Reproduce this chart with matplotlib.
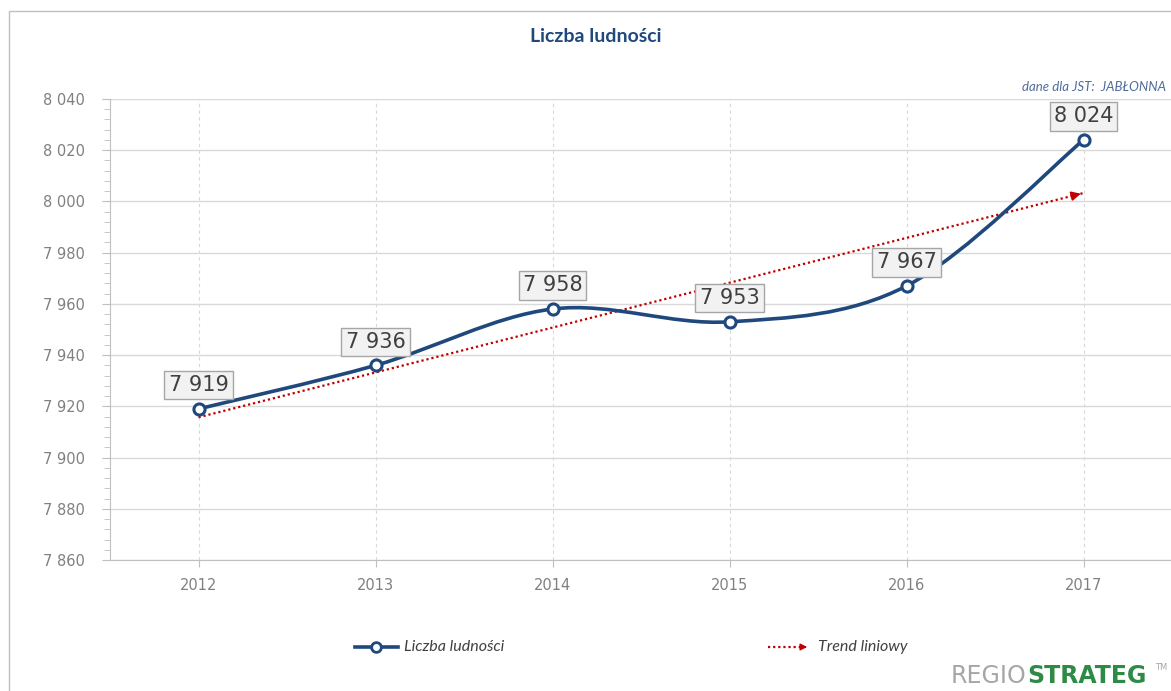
import matplotlib.pyplot as plt
import matplotlib.ticker as mticker
from matplotlib.path import Path
from matplotlib.patches import PathPatch, Rectangle, FancyArrowPatch
from matplotlib.lines import Line2D
import numpy as np

years = ['2012', '2013', '2014', '2015', '2016', '2017']
population = [7919, 7936, 7958, 7953, 7967, 8024]
y_ticks = [7860, 7880, 7900, 7920, 7940, 7960, 7980, 8000, 8020, 8040]

blue = '#1F497D'
red = '#C00000'
gray = '#808080'

plt.rcParams['font.family'] = ['Lato', 'DejaVu Sans']

fig = plt.figure(figsize=(11.71, 6.91), dpi=100)
ax = fig.add_axes([110 / 1171, 1 - 560 / 691, 1062 / 1171, 461 / 691])

x = np.arange(len(years))
y = np.array(population, dtype=float)

# smoothed line like Excel (Catmull-Rom as cubic bezier)
verts = [(x[0], y[0])]
codes = [Path.MOVETO]
n = len(x)
for i in range(n - 1):
    p0 = i - 1 if i > 0 else i
    p3 = i + 2 if i + 2 < n else i + 1
    c1 = (x[i] + (x[i + 1] - x[p0]) / 6, y[i] + (y[i + 1] - y[p0]) / 6)
    c2 = (x[i + 1] - (x[p3] - x[i]) / 6, y[i + 1] - (y[p3] - y[i]) / 6)
    verts += [c1, c2, (x[i + 1], y[i + 1])]
    codes += [Path.CURVE4] * 3
ax.add_patch(PathPatch(Path(verts, codes), fill=False, edgecolor=blue, lw=2.6, zorder=4))
ax.plot(x, y, ls='none', marker='o', ms=8, mfc='white', mec=blue, mew=2.2, zorder=5)

# linear trend
slope, intercept = np.polyfit(x, y, 1)
trend = intercept + slope * x
ax.plot(x, trend, color=red, ls=(0, (1, 1.3)), lw=1.6, zorder=3)
ax.annotate('', xy=(x[-1], trend[-1]), xytext=(x[-1] - 0.08, trend[-1] - slope * 0.08),
            arrowprops=dict(arrowstyle='-|>', color=red, lw=1.2, mutation_scale=14), zorder=3)

# data labels
for xi, yi in zip(x, population):
    ax.annotate(f'{yi:,}'.replace(',', ' '), (xi, yi), xytext=(0, 17), textcoords='offset points',
                ha='center', va='center', fontsize=15, color='#404040', family='DejaVu Sans',
                bbox=dict(boxstyle='square,pad=0.2', fc='#F2F2F2', ec='#A6A6A6', lw=1), zorder=6)

ax.set_xlim(-0.5, n - 0.5)
ax.set_ylim(7860, 8040)
ax.set_xticks(x)
ax.set_xticklabels(years)
ax.set_yticks(y_ticks)
ax.yaxis.set_minor_locator(mticker.MultipleLocator(4))
ax.yaxis.set_major_formatter(mticker.FuncFormatter(lambda v, p: f'{int(v):,}'.replace(',', ' ')))
ax.tick_params(axis='y', which='major', length=6, color='#BFBFBF', labelcolor=gray, labelsize=10.5, pad=12)
ax.tick_params(axis='y', which='minor', length=4, color='#BFBFBF')
ax.tick_params(axis='x', length=5, color='#BFBFBF', labelcolor=gray, labelsize=10.5, pad=8)
for lab in ax.get_xticklabels() + ax.get_yticklabels():
    lab.set_family('DejaVu Sans')

ax.grid(axis='y', color='#D9D9D9', lw=1)
ax.grid(axis='x', color='#D9D9D9', lw=0.8, ls=(0, (3, 3)))
ax.set_axisbelow(True)
for s in ['top', 'right']:
    ax.spines[s].set_visible(False)
ax.spines['left'].set_color('#BFBFBF')
ax.spines['bottom'].set_color('#BFBFBF')

# frame
fig.add_artist(Rectangle((9 / 1171, -0.05), 1.1, 1 - 11 / 691 + 0.05, transform=fig.transFigure,
                         fill=False, ec='#BFBFBF', lw=1))

fig.text(596 / 1171, 1 - 36 / 691, 'Liczba ludności', ha='center', va='center',
         fontsize=14, fontweight='bold', color=blue)
fig.text(1166 / 1171, 1 - 87 / 691, 'dane dla JST:  JABŁONNA', ha='right', va='center',
         fontsize=9.5, style='italic', color='#4F6D9A')

# legend
ly = 1 - 647 / 691
fig.add_artist(Line2D([355 / 1171, 398 / 1171], [ly, ly], color=blue, lw=2.6,
                      transform=fig.transFigure))
fig.add_artist(Line2D([376 / 1171], [ly], marker='o', ms=7, mfc='white', mec=blue, mew=2,
                      transform=fig.transFigure))
fig.text(404 / 1171, ly, 'Liczba ludności', ha='left', va='center', fontsize=11.5,
         style='italic', color='#404040')
fig.add_artist(Line2D([768 / 1171, 803 / 1171], [ly, ly], color=red, lw=1.6, ls=(0, (1, 1.3)),
                      transform=fig.transFigure))
fig.patches.append(FancyArrowPatch(
    (800 / 1171, ly), (810 / 1171, ly), transform=fig.transFigure, arrowstyle='-|>',
    color=red, mutation_scale=10, lw=1))
fig.text(818 / 1171, ly, 'Trend liniowy', ha='left', va='center', fontsize=11.5,
         style='italic', color='#404040')

# logo
fig.text(1026 / 1171, 1 - 676 / 691, 'REGIO', ha='right', va='center', fontsize=17,
         family='DejaVu Sans', color='#A6A6A6')
fig.text(1027 / 1171, 1 - 676 / 691, 'STRATEG', ha='left', va='center', fontsize=17,
         family='DejaVu Sans', fontweight='bold', color='#2E8B45')
fig.text(1155 / 1171, 1 - 668 / 691, 'TM', ha='left', va='center', fontsize=6,
         family='DejaVu Sans', color='#A6A6A6')

fig.savefig('out.png', dpi=100)
